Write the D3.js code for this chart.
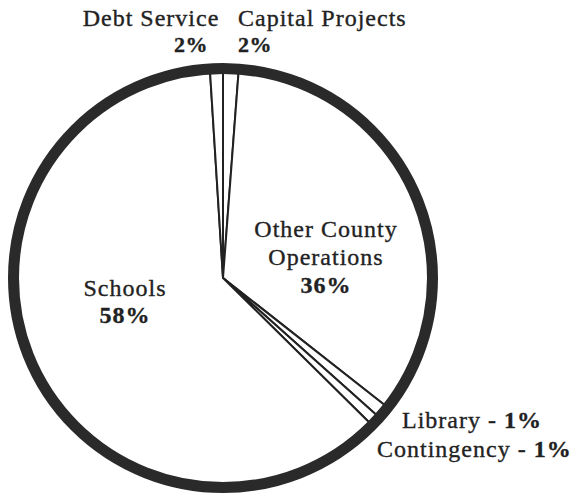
<!DOCTYPE html>
<html>
<head>
<meta charset="utf-8">
<script src="https://cdn.jsdelivr.net/npm/d3@7"></script>
<style>
  html, body { margin: 0; padding: 0; background: #fff; }
  svg text { font-family: "Liberation Serif", "Times New Roman", serif; fill: #222; stroke: #222; stroke-width: 0.35; }
</style>
</head>
<body>
<svg id="pie" width="577" height="498"></svg>
<script>
// slices, clockwise from 12 o'clock
const sliceNames = ["Capital Projects", "Other County Operations", "Library", "Contingency", "Schools", "Debt Service"];
const slicePercentLabels = ["2%", "36%", "1%", "1%", "58%", "2%"];
// share of the circle as the slices are drawn in the picture
const sliceShares = [1.2, 34.4, 1.0, 0.8, 61.6, 1.0];

const svg = d3.select("#pie");
const cx = 223, cy = 278;
const ringR = 209.5;

const slices = sliceNames.map((name, i) => ({ name, label: slicePercentLabels[i], value: sliceShares[i] }));

const pie = d3.pie().sort(null).value(d => d.value);
const arc = d3.arc().innerRadius(0).outerRadius(ringR);

const g = svg.append("g").attr("transform", `translate(${cx},${cy})`);

g.selectAll("path.slice")
  .data(pie(slices))
  .join("path")
  .attr("class", "slice")
  .attr("d", arc)
  .attr("fill", "#fff")
  .attr("stroke", "#222")
  .attr("stroke-width", 2)
  .attr("stroke-linejoin", "round");

// thick outer rim
g.append("circle")
  .attr("r", ringR)
  .attr("fill", "none")
  .attr("stroke", "#2a2a2a")
  .attr("stroke-width", 11);

// labels, placed by hand like the original
const labelPos = {
  "Debt Service":            { x: 151, y: 26, anchor: "middle", px: 191, py: 52, panchor: "middle" },
  "Capital Projects":        { x: 238, y: 26, anchor: "start",  px: 238, py: 52, panchor: "start" },
  "Other County Operations": { x: 326, y: 237, anchor: "middle" },
  "Schools":                 { x: 125, y: 296, anchor: "middle" },
  "Library":                 { x: 402, y: 428, anchor: "start" },
  "Contingency":             { x: 377, y: 457, anchor: "start" }
};

const labels = svg.append("g").attr("class", "labels");
const fs = 24;

slices.forEach(d => {
  const p = labelPos[d.name];
  if (d.name === "Debt Service" || d.name === "Capital Projects") {
    labels.append("text").attr("x", p.x).attr("y", p.y).attr("text-anchor", p.anchor)
      .attr("font-size", fs).attr("letter-spacing", 1).text(d.name);
    labels.append("text").attr("x", p.px).attr("y", p.py).attr("text-anchor", p.panchor)
      .attr("font-size", 22).attr("font-weight", "bold").attr("letter-spacing", 0.5).text(d.label);
  } else if (d.name === "Other County Operations") {
    const t = labels.append("text").attr("text-anchor", p.anchor).attr("font-size", fs).attr("letter-spacing", 1);
    t.append("tspan").attr("x", p.x).attr("y", p.y).text("Other County");
    t.append("tspan").attr("x", p.x).attr("y", p.y + 28).text("Operations");
    t.append("tspan").attr("x", p.x).attr("y", p.y + 56).attr("font-weight", "bold").text(d.label);
  } else if (d.name === "Schools") {
    const t = labels.append("text").attr("text-anchor", p.anchor).attr("font-size", fs).attr("letter-spacing", 1);
    t.append("tspan").attr("x", p.x).attr("y", p.y).text(d.name);
    t.append("tspan").attr("x", p.x).attr("y", p.y + 27).attr("font-weight", "bold").text(d.label);
  } else {
    const t = labels.append("text").attr("x", p.x).attr("y", p.y).attr("text-anchor", p.anchor)
      .attr("font-size", fs).attr("letter-spacing", 1);
    t.append("tspan").text(d.name + " - ");
    t.append("tspan").attr("font-weight", "bold").text(d.label);
  }
});
</script>
</body>
</html>
